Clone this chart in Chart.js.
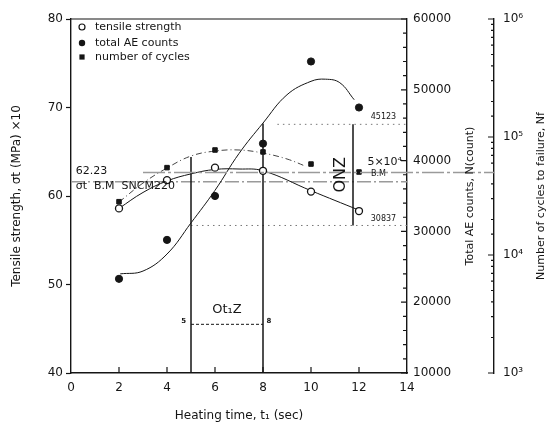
<!DOCTYPE html>
<html><head><meta charset="utf-8">
<script src="https://cdn.jsdelivr.net/npm/chart.js@4.4.1/dist/chart.umd.min.js"></script>
<style>html,body{margin:0;padding:0;background:#fff}#wrap{width:557px;height:431px;position:relative}</style>
</head><body><div id="wrap"><canvas id="c"></canvas></div>
<script>
// measured values at each heating time
const heatingTime = [2, 4, 6, 8, 10, 12];
const tensileStrength = [58.6, 61.8, 63.2, 62.85, 60.5, 58.3];
const aeCounts = [23300, 28800, 35000, 42400, 54000, 47500];
const cyclesToFailure = [28300, 55000, 77600, 74700, 59000, 50500];

// smoothed trend curves
const tensileFitX = [2, 3, 4, 5, 6, 7, 8, 10, 12];
const tensileFitY = [58.6, 60.4, 61.7, 62.5, 63.0, 63.05, 62.85, 60.6, 58.4];
const aeFitX = [2.05, 3, 4, 5, 6, 7, 8, 9, 10, 10.6, 11.2, 11.8];
const aeFitY = [24000, 24400, 26800, 31200, 35800, 41000, 45300, 49300, 51200, 51500, 51000, 48600];
const cyclesFitX = [2, 3, 4, 5, 6, 7, 8, 9, 9.8];
const cyclesFitY = [28100, 40700, 54600, 69000, 76000, 77600, 73100, 65100, 56300];

// reference levels and zones
const baseMetalStrength = 61.6;
const baseMetalCycles = 50000;
const aeUpper = 45123;
const aeLower = 30837;
const optimumT1 = [5, 8];
const optimumT1Tops = [64.4, 68.2];
const optimumT1Bar = 45.5;
const onzTime = 11.75;

// axis tick labels
const xTicks = [0, 2, 4, 6, 8, 10, 12, 14];
const strengthTicks = [40, 50, 60, 70, 80];
const aeTicks = [10000, 20000, 30000, 40000, 50000, 60000];
const cycleTicks = {1000: '10³', 10000: '10⁴', 100000: '10⁵', 1000000: '10⁶'};

const FONT = 'DejaVu Sans';
const INK = '#151515';
const GREY = '#9a9a9a';

const pts = (xs, ys) => xs.map((v, i) => ({x: v, y: ys[i]}));

const guide = (data, axis, extra) => Object.assign({
  data, yAxisID: axis, borderColor: INK, borderWidth: 1.5, pointRadius: 0,
  tension: 0, fill: false, showLine: true
}, extra || {});

const datasets = [
  {label: 'tensile strength', data: pts(heatingTime, tensileStrength), yAxisID: 'y', showLine: false,
   pointStyle: 'circle', pointRadius: 3.5, pointBackgroundColor: '#fff', pointBorderColor: INK, pointBorderWidth: 1.3},
  {label: 'total AE counts', data: pts(heatingTime, aeCounts), yAxisID: 'y2', showLine: false,
   pointStyle: 'circle', pointRadius: 3.6, pointBackgroundColor: INK, pointBorderColor: INK},
  {label: 'number of cycles', data: pts(heatingTime, cyclesToFailure), yAxisID: 'y3', showLine: false,
   pointStyle: 'rect', pointRadius: 3.2, pointBackgroundColor: INK, pointBorderColor: INK},
  guide(pts(tensileFitX, tensileFitY), 'y', {borderWidth: 1, tension: 0.4}),
  guide(pts(aeFitX, aeFitY), 'y2', {borderWidth: 1, tension: 0.4}),
  guide(pts(cyclesFitX, cyclesFitY), 'y3', {borderWidth: 1, tension: 0.4, borderColor: '#444', borderDash: [6, 3, 1, 3]}),
  // optimum heating-time zone
  guide([{x: optimumT1[0], y: 40}, {x: optimumT1[0], y: optimumT1Tops[0]}], 'y'),
  guide([{x: optimumT1[1], y: 40}, {x: optimumT1[1], y: optimumT1Tops[1]}], 'y'),
  guide([{x: optimumT1[0], y: optimumT1Bar}, {x: optimumT1[1], y: optimumT1Bar}], 'y', {borderWidth: 1, borderDash: [3, 2]}),
  // optimum AE-count zone
  guide([{x: onzTime, y: aeLower}, {x: onzTime, y: aeUpper}], 'y2'),
  guide([{x: optimumT1[0], y: aeLower}, {x: 14, y: aeLower}], 'y2', {borderWidth: 1, borderColor: '#777', borderDash: [1.5, 4]}),
  guide([{x: 8.6, y: aeUpper}, {x: 14, y: aeUpper}], 'y2', {borderWidth: 1, borderColor: '#777', borderDash: [1.5, 4]}),
  // base metal strength
  guide([{x: 0, y: baseMetalStrength}, {x: 14, y: baseMetalStrength}], 'y', {borderWidth: 1.5, borderColor: GREY, borderDash: [14, 3, 2, 3]})
];

const overlay = {
  id: 'overlay',
  afterDatasetsDraw(chart) {
    const {ctx, chartArea: a, scales: {x, y, y2, y3}} = chart;
    ctx.save();
    ctx.strokeStyle = INK;
    ctx.fillStyle = INK;
    // top frame
    ctx.lineWidth = 1.2;
    ctx.beginPath(); ctx.moveTo(a.left, a.top); ctx.lineTo(a.right, a.top); ctx.stroke();

    // inward tick marks
    ctx.lineWidth = 1.2;
    ctx.beginPath();
    xTicks.slice(1, -1).forEach(v => {
      const px = x.getPixelForValue(v);
      ctx.moveTo(px, a.bottom); ctx.lineTo(px, a.bottom - 6);
    });
    y2.ticks.forEach(t => {
      const py = y2.getPixelForValue(t.value);
      const len = aeTicks.includes(t.value) ? 6 : 4;
      ctx.moveTo(y2.left, py); ctx.lineTo(y2.left - len, py);
    });
    y3.ticks.forEach(t => {
      const py = y3.getPixelForValue(t.value);
      const len = cycleTicks[t.value] ? 6 : 3;
      ctx.moveTo(y3.left, py); ctx.lineTo(y3.left - len, py);
    });
    ctx.stroke();

    // base-metal fatigue life level, carried across to the cycles axis
    const yc = y3.getPixelForValue(baseMetalCycles);
    ctx.strokeStyle = GREY; ctx.lineWidth = 1.5; ctx.setLineDash([22, 3, 3, 3]);
    ctx.beginPath(); ctx.moveTo(x.getPixelForValue(3), yc); ctx.lineTo(y3.left, yc); ctx.stroke();
    ctx.setLineDash([]);

    const text = (s, vx, vy, scale, size, align, weight) => {
      ctx.font = (weight || '') + ' ' + size + 'px "' + FONT + '"';
      ctx.textAlign = align || 'left';
      ctx.textBaseline = 'middle';
      ctx.fillStyle = INK;
      ctx.fillText(s, x.getPixelForValue(vx), scale.getPixelForValue(vy));
    };
    text('62.23', 0.2, 62.8, y, 11);
    text('σt  B.M  SNCM220', 0.2, 61.1, y, 11);
    text('Ot₁Z', 6.5, 47.2, y, 13, 'center');
    text('5', 4.7, 45.8, y, 7, 'center', 'bold');
    text('8', 8.25, 45.8, y, 7, 'center', 'bold');
    text('45123', 13.55, 46200, y2, 8, 'right');
    text('30837', 13.55, 31800, y2, 8, 'right');
    text('5×10⁴', 12.35, 63.85, y, 11);
    text('B.M', 12.5, 62.55, y, 8);

    // ONZ zone label, written bottom-to-top
    ctx.save();
    ctx.translate(x.getPixelForValue(11.25), y.getPixelForValue(62.4));
    ctx.rotate(-Math.PI / 2);
    ctx.font = '16px "' + FONT + '"';
    ctx.textAlign = 'center'; ctx.textBaseline = 'middle';
    ctx.fillText('ONZ', 0, 0);
    ctx.restore();

    // right-hand axis titles
    const vtitle = (s, px) => {
      ctx.save();
      ctx.translate(px, (a.top + a.bottom) / 2);
      ctx.rotate(-Math.PI / 2);
      ctx.font = '11px "' + FONT + '"';
      ctx.textAlign = 'center'; ctx.textBaseline = 'middle';
      ctx.fillStyle = INK;
      ctx.fillText(s, 0, 0);
      ctx.restore();
    };
    vtitle('Total AE counts, N(count)', y2.right - 24);
    vtitle('Number of cycles to failure, Nf', y3.right - 16);

    // legend
    const lx = a.left + 11, tx = a.left + 24;
    const rows = [a.top + 8, a.top + 24, a.top + 38];
    ctx.font = '11px "' + FONT + '"';
    ctx.textAlign = 'left'; ctx.textBaseline = 'middle';
    ctx.lineWidth = 1.2; ctx.strokeStyle = INK;
    ctx.beginPath(); ctx.arc(lx, rows[0], 3, 0, Math.PI * 2); ctx.fillStyle = '#fff'; ctx.fill(); ctx.stroke();
    ctx.fillStyle = INK;
    ctx.beginPath(); ctx.arc(lx, rows[1], 3.2, 0, Math.PI * 2); ctx.fill();
    ctx.fillRect(lx - 2.6, rows[2] - 2.6, 5.2, 5.2);
    ctx.fillText('tensile strength', tx, rows[0]);
    ctx.fillText('total AE counts', tx, rows[1]);
    ctx.fillText('number of cycles', tx, rows[2]);
    ctx.restore();
  }
};

const tickFont = {family: FONT, size: 12};

new Chart(document.getElementById('c'), {
  type: 'line',
  data: {datasets},
  options: {
    responsive: true, maintainAspectRatio: false, animation: false,
    layout: {padding: {top: 19, left: 0, right: 0, bottom: 0}},
    plugins: {legend: {display: false}, tooltip: {enabled: false}},
    scales: {
      x: {
        type: 'linear', min: 0, max: 14,
        afterBuildTicks: s => { s.ticks = xTicks.map(v => ({value: v})); },
        ticks: {font: tickFont, color: INK, padding: 8, maxRotation: 0},
        grid: {drawOnChartArea: false, drawTicks: false},
        border: {color: INK, width: 1.4},
        title: {display: true, text: 'Heating time, t₁ (sec)', font: {family: FONT, size: 12}, color: INK, padding: {top: 0, bottom: 8}},
        afterFit: s => { s.height = 58; }
      },
      y: {
        type: 'linear', position: 'left', min: 40, max: 80,
        afterBuildTicks: s => { s.ticks = strengthTicks.map(v => ({value: v})); },
        ticks: {font: tickFont, color: INK, padding: 3},
        grid: {drawOnChartArea: false, tickLength: 5, color: INK, tickWidth: 1.2},
        border: {color: INK, width: 1.4},
        title: {display: true, text: 'Tensile strength, σt (MPa) ×10', font: {family: FONT, size: 12}, color: INK, padding: {top: 10, bottom: 0}},
        afterFit: s => { s.width = 71; }
      },
      y2: {
        type: 'linear', position: 'right', min: 10000, max: 60000,
        afterBuildTicks: s => {
          const t = [];
          for (let v = 10000; v <= 60000; v += 2000) t.push({value: v});
          s.ticks = t;
        },
        ticks: {font: tickFont, color: INK, padding: 6, autoSkip: false,
                callback: v => aeTicks.includes(v) ? String(v) : ''},
        grid: {drawOnChartArea: false, drawTicks: false},
        border: {color: INK, width: 1.4},
        afterFit: s => { s.width = 87; }
      },
      y3: {
        type: 'logarithmic', position: 'right', min: 1000, max: 1000000,
        ticks: {font: tickFont, color: INK, padding: 9, autoSkip: false,
                callback: v => cycleTicks[v] || ''},
        grid: {drawOnChartArea: false, drawTicks: false},
        border: {color: INK, width: 1.4},
        afterFit: s => { s.width = 63; }
      }
    }
  },
  plugins: [overlay]
});
</script>
</body></html>
